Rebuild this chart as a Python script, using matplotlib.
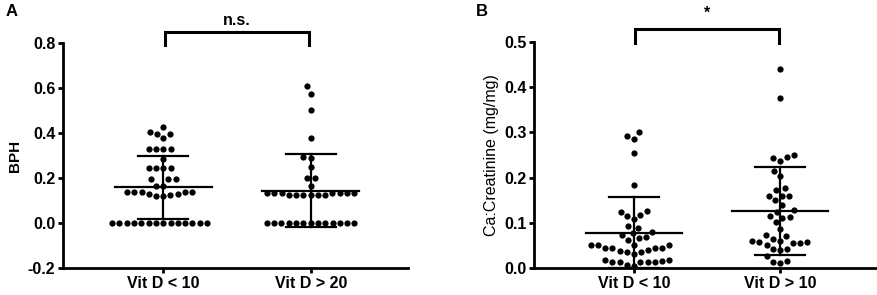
import numpy as np
import matplotlib
matplotlib.use("Agg")
import matplotlib.pyplot as plt

plt.rcParams['font.family'] = ['Liberation Sans', 'DejaVu Sans']

# panel A: BPH by vitamin D group
groups_a = ["Vit D < 10", "Vit D > 20"]
bph_low = [0.428, 0.404, 0.396, 0.396, 0.379,
           0.328, 0.328, 0.328, 0.328, 0.284,
           0.244, 0.244, 0.244, 0.244, 0.195, 0.195, 0.195, 0.166, 0.166,
           0.139, 0.136, 0.126, 0.129, 0.136, 0.129, 0.136, 0.121, 0.136, 0.121] + [0.0] * 14
bph_high = [0.608, 0.573, 0.502, 0.379, 0.292, 0.288, 0.248, 0.199, 0.199, 0.166,
            0.135, 0.135, 0.135, 0.135, 0.135, 0.135, 0.135,
            0.125, 0.125, 0.125, 0.125, 0.125, 0.125] + [0.0] * 13

# panel B: Ca:Creatinine by vitamin D group
groups_b = ["Vit D < 10", "Vit D > 10"]
ca_low = [0.300, 0.292, 0.285, 0.255, 0.184,
          0.125, 0.127, 0.115, 0.118, 0.109, 0.093, 0.090,
          0.070, 0.077, 0.073, 0.066, 0.081, 0.062,
          0.051, 0.051, 0.045, 0.045, 0.040, 0.044, 0.051, 0.044, 0.039, 0.051,
          0.035, 0.031, 0.035,
          0.017, 0.015, 0.018, 0.013, 0.015, 0.014, 0.013, 0.019,
          0.007, 0.004]
ca_high = [0.440, 0.375, 0.245, 0.237, 0.243, 0.250, 0.215, 0.204,
           0.178, 0.173, 0.160, 0.160, 0.160, 0.151, 0.140,
           0.125, 0.129, 0.116, 0.112, 0.114, 0.103, 0.087,
           0.073, 0.071, 0.065,
           0.056, 0.057, 0.060, 0.058, 0.052, 0.056, 0.060,
           0.042, 0.042, 0.040, 0.027, 0.011, 0.016, 0.015]


def swarm(ax, xc, vals, dx_min=7.3, dy_min=9.0):
    # beeswarm in pixel space, elliptical spacing so close values sit in rows
    vals = np.asarray(vals, float)
    pts = ax.transData.transform(np.column_stack([np.full(len(vals), xc), vals]))
    x0, ypx = pts[0, 0], pts[:, 1]
    placed = []
    xs = np.zeros(len(vals))

    def ok(c, y):
        return all(((c - px) / dx_min) ** 2 + ((y - py) / dy_min) ** 2 >= 1 - 1e-6
                   for px, py in placed)

    for i in np.argsort(ypx):
        y = ypx[i]
        cands = [0.0]
        for px, py in placed:
            dy = y - py
            if abs(dy) < dy_min:
                dx = dx_min * np.sqrt(1 - (dy / dy_min) ** 2)
                cands += [px + dx, px - dx]
        cands.sort(key=lambda c: (round(abs(c), 3), c))
        for c in cands:
            if ok(c, y):
                xs[i] = c
                break
        placed.append((xs[i], y))
    out = ax.transData.inverted().transform(np.column_stack([x0 + xs, ypx]))
    return out[:, 0], vals


def panel(ax, data, labels, ylim, yticks, ylabel, ylabel_bold):
    ax.set_xlim(-0.68, 1.66)
    ax.set_ylim(*ylim)
    ax.set_yticks(yticks)
    ax.set_yticklabels([f"{t:.1f}" for t in yticks])
    ax.set_xticks([0, 1])
    ax.set_xticklabels(labels)
    for s in ["top", "right"]:
        ax.spines[s].set_visible(False)
    for s in ["left", "bottom"]:
        ax.spines[s].set_linewidth(2.0)
    ax.tick_params(width=2.0, length=3.5, labelsize=11.5, pad=2)
    for t in ax.get_xticklabels() + ax.get_yticklabels():
        t.set_fontweight("bold")
    ax.set_ylabel(ylabel, fontsize=11 if ylabel_bold else 11.5,
                  fontweight="bold" if ylabel_bold else "normal", labelpad=4)
    for i, vals in enumerate(data):
        x, y = swarm(ax, i, vals)
        ax.plot(x, y, "o", color="black", ms=4.5, mew=0, zorder=2, clip_on=False)
        m = np.mean(vals)
        sd = np.std(vals, ddof=1)
        ax.plot([i - 0.33, i + 0.33], [m, m], color="black", lw=1.6, zorder=3)
        ax.plot([i - 0.17, i + 0.17], [m + sd, m + sd], color="black", lw=1.6, zorder=3)
        ax.plot([i - 0.17, i + 0.17], [m - sd, m - sd], color="black", lw=1.6, zorder=3)
        ax.plot([i, i], [m - sd, m + sd], color="black", lw=1.6, zorder=3)


fig = plt.figure(figsize=(8.78, 2.95), dpi=100)
ax1 = fig.add_axes([63 / 878, 26.7 / 295, 345 / 878, 225.6 / 295])
ax2 = fig.add_axes([534.3 / 878, 26.7 / 295, 342.4 / 878, 226.6 / 295])

panel(ax1, [bph_low, bph_high], groups_a, (-0.2, 0.8),
      [-0.2, 0.0, 0.2, 0.4, 0.6, 0.8], "BPH", True)
panel(ax2, [ca_low, ca_high], groups_b, (0.0, 0.5),
      [0.0, 0.1, 0.2, 0.3, 0.4, 0.5], "Ca:Creatinine (mg/mg)", False)

# significance brackets
ax1.plot([0.01, 0.01, 0.99, 0.99], [0.79, 0.849, 0.849, 0.79], color="black",
         lw=2.2, clip_on=False, solid_joinstyle="miter")
ax1.text(0.5, 0.878, "n.s.", ha="center", va="baseline", fontsize=11.5, fontweight="bold")
ax2.plot([0.01, 0.01, 0.99, 0.99], [0.4965, 0.527, 0.527, 0.4965], color="black",
         lw=2.2, clip_on=False, solid_joinstyle="miter")
ax2.text(0.5, 0.552, "*", ha="center", va="baseline", fontsize=11.5, fontweight="bold")

fig.text(6 / 878, 1 - 12 / 295, "A", fontsize=12, fontweight="bold", va="center", ha="left")
fig.text(476 / 878, 1 - 12 / 295, "B", fontsize=12, fontweight="bold", va="center", ha="left")

fig.savefig("out.png", dpi=100)
